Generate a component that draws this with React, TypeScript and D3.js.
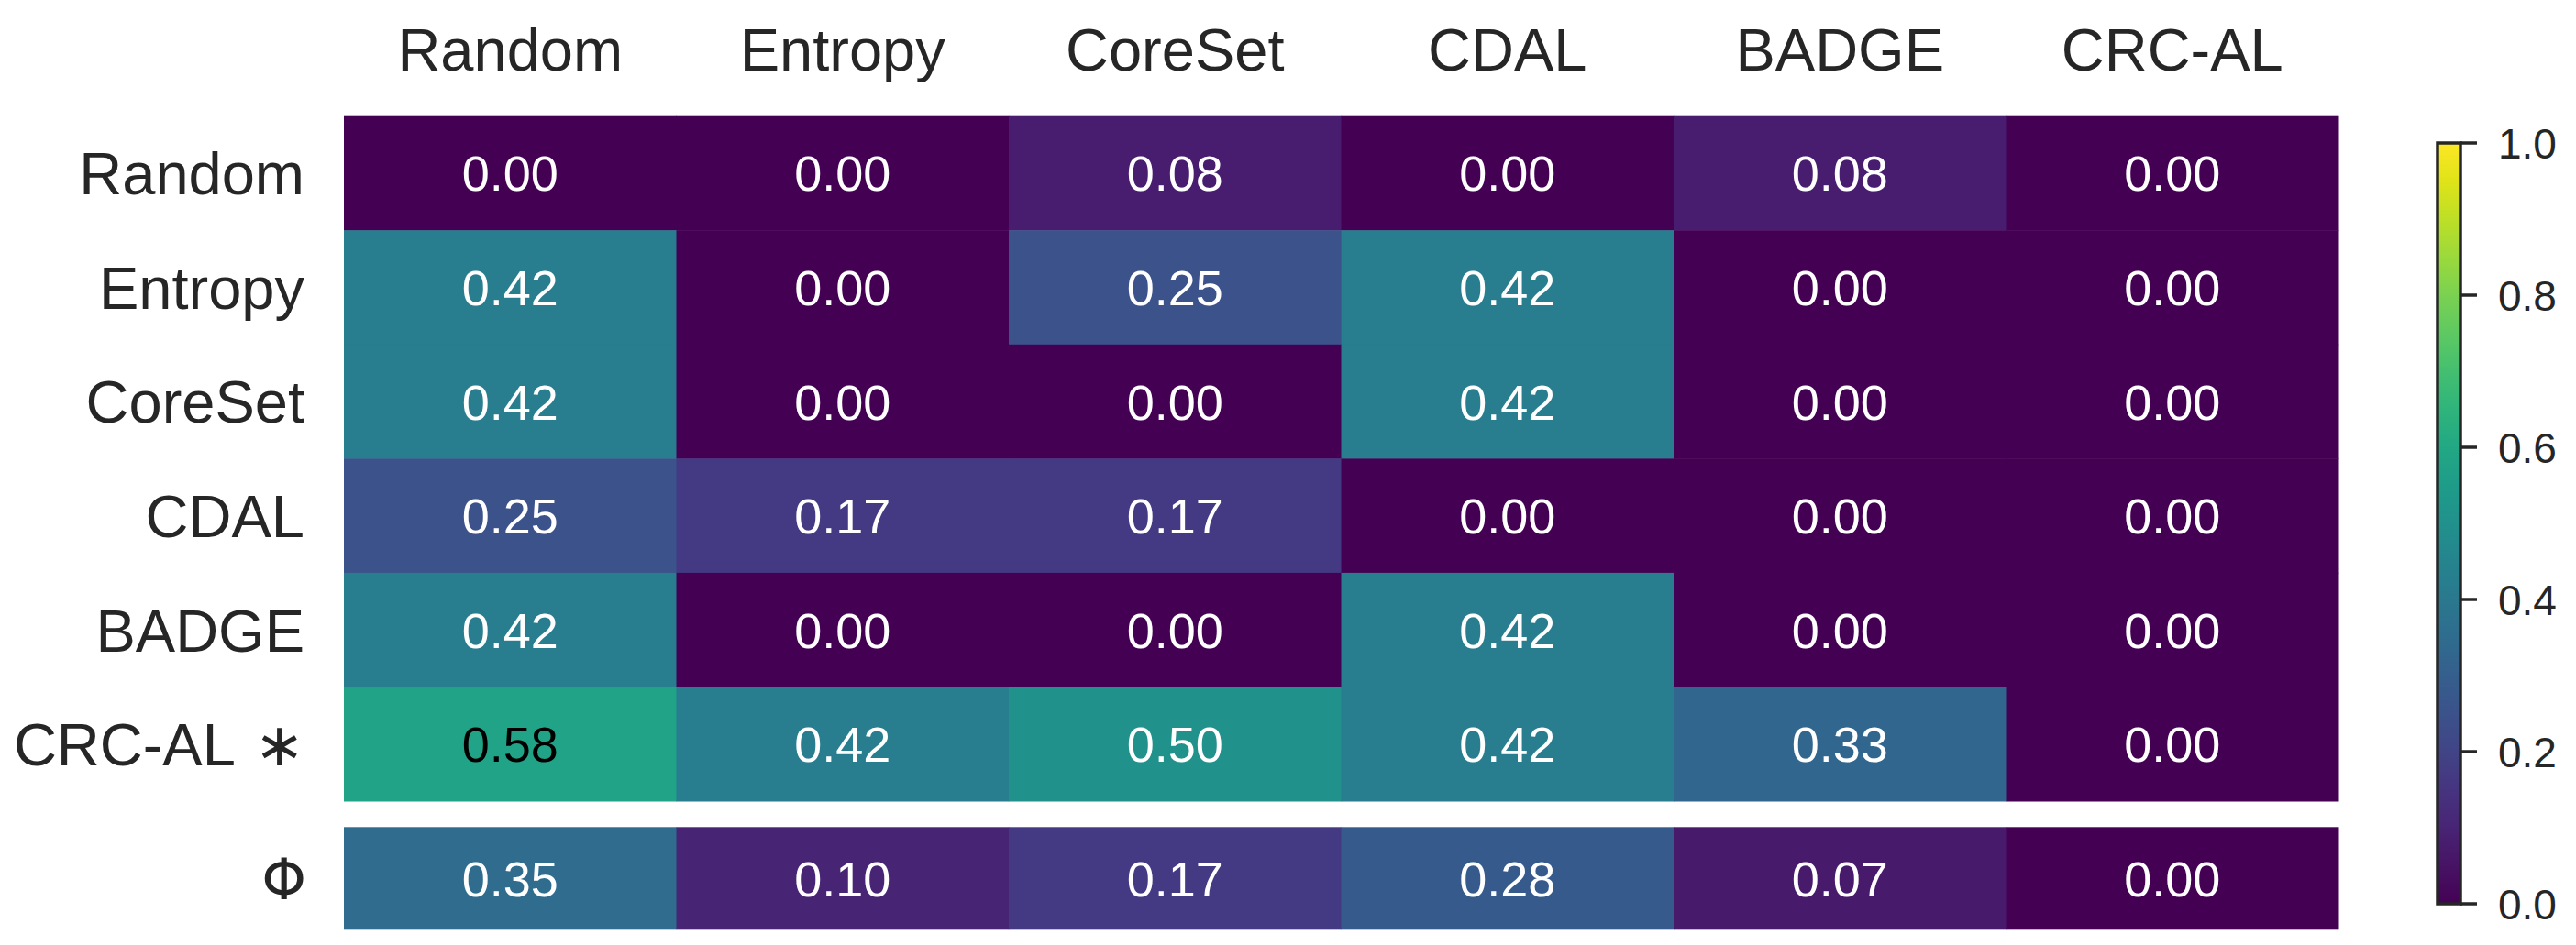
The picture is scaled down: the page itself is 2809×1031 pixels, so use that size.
import * as d3 from 'd3';

const methods = ['Random', 'Entropy', 'CoreSet', 'CDAL', 'BADGE', 'CRC-AL'];
const rowLabels = ['Random', 'Entropy', 'CoreSet', 'CDAL', 'BADGE', 'CRC-AL'];

// win-rate matrix: row method vs column method
const winMatrix = [
  [0.0, 0.0, 0.08, 0.0, 0.08, 0.0],
  [0.42, 0.0, 0.25, 0.42, 0.0, 0.0],
  [0.42, 0.0, 0.0, 0.42, 0.0, 0.0],
  [0.25, 0.17, 0.17, 0.0, 0.0, 0.0],
  [0.42, 0.0, 0.0, 0.42, 0.0, 0.0],
  [0.58, 0.42, 0.5, 0.42, 0.33, 0.0],
];

// Φ summary row
const phiValues = [0.35, 0.1, 0.17, 0.28, 0.07, 0.0];

const colorbarTicks = [0, 0.2, 0.4, 0.6, 0.8, 1.0];

const WIDTH = 2809;
const HEIGHT = 1031;
const FONT = '"Liberation Sans", Arial, sans-serif';
const TEXT = '#262626';

// pick annotation colour from the cell's luminance
function annotColor(v: number) {
  const c = d3.rgb(d3.interpolateViridis(v));
  const lin = [c.r, c.g, c.b].map((x) => {
    const s = x / 255;
    return s <= 0.03928 ? s / 12.92 : Math.pow((s + 0.055) / 1.055, 2.4);
  });
  const lum = 0.2126 * lin[0] + 0.7152 * lin[1] + 0.0722 * lin[2];
  return lum > 0.25 ? '#000000' : '#ffffff';
}

export default function App() {
  const x = d3.scaleBand().domain(methods).range([375, 2550]);
  const y = d3.scaleBand().domain(rowLabels).range([126.7, 874]);
  const phiTop = 902.3;
  const phiBottom = 1014.3;
  const color = (v: number) => d3.interpolateViridis(v);

  const cb = d3.scaleLinear().domain([0, 1]).range([986, 156]);
  const cbLeft = 2658;
  const cbWidth = 25;
  const stops = d3.range(0, 1.0001, 0.05);

  return (
    <svg
      width={WIDTH}
      height={HEIGHT}
      style={{ position: 'absolute', left: 0, top: 0, background: '#fff' }}
      fontFamily={FONT}
    >
      <defs>
        <linearGradient id="viridis" x1="0" y1="1" x2="0" y2="0">
          {stops.map((s) => (
            <stop key={s} offset={s} stopColor={color(s)} />
          ))}
        </linearGradient>
      </defs>

      {/* main matrix */}
      {winMatrix.map((row, i) =>
        row.map((v, j) => (
          <g key={`c${i}-${j}`}>
            <rect
              x={x(methods[j])!}
              y={y(rowLabels[i])!}
              width={x.bandwidth() + 0.5}
              height={y.bandwidth() + 0.5}
              fill={color(v)}
            />
            <text
              x={x(methods[j])! + x.bandwidth() / 2}
              y={y(rowLabels[i])! + y.bandwidth() / 2}
              dy="0.36em"
              textAnchor="middle"
              fontSize={54}
              fill={annotColor(v)}
            >
              {v.toFixed(2)}
            </text>
          </g>
        ))
      )}

      {/* Φ row */}
      {phiValues.map((v, j) => (
        <g key={`p${j}`}>
          <rect
            x={x(methods[j])!}
            y={phiTop}
            width={x.bandwidth() + 0.5}
            height={phiBottom - phiTop}
            fill={color(v)}
          />
          <text
            x={x(methods[j])! + x.bandwidth() / 2}
            y={(phiTop + phiBottom) / 2}
            dy="0.36em"
            textAnchor="middle"
            fontSize={54}
            fill={annotColor(v)}
          >
            {v.toFixed(2)}
          </text>
        </g>
      ))}

      {/* column labels */}
      {methods.map((m) => (
        <text
          key={`h${m}`}
          x={x(m)! + x.bandwidth() / 2}
          y={77}
          textAnchor="middle"
          fontSize={65}
          fill={TEXT}
        >
          {m}
        </text>
      ))}

      {/* row labels */}
      {rowLabels.map((r, i) => (
        <text
          key={`r${r}`}
          x={332}
          y={y(r)! + y.bandwidth() / 2}
          dy="0.36em"
          textAnchor="end"
          fontSize={65}
          fill={TEXT}
        >
          {r}
          {i === rowLabels.length - 1 && (
            <tspan fontFamily='"DejaVu Sans", sans-serif'> ∗</tspan>
          )}
        </text>
      ))}
      <text
        x={334}
        y={(phiTop + phiBottom) / 2}
        dy="0.36em"
        textAnchor="end"
        fontSize={62}
        fontFamily='"DejaVu Sans", sans-serif'
        fill={TEXT}
      >
        Φ
      </text>

      {/* colorbar */}
      <rect
        x={cbLeft}
        y={cb(1)}
        width={cbWidth}
        height={cb(0) - cb(1)}
        fill="url(#viridis)"
        stroke={TEXT}
        strokeWidth={3.5}
      />
      {colorbarTicks.map((t) => (
        <g key={`t${t}`}>
          <line
            x1={cbLeft + cbWidth}
            x2={cbLeft + cbWidth + 18}
            y1={cb(t)}
            y2={cb(t)}
            stroke={TEXT}
            strokeWidth={3.5}
          />
          <text
            x={2724}
            y={cb(t)}
            dy="0.36em"
            fontSize={46}
            fill={TEXT}
          >
            {t.toFixed(1)}
          </text>
        </g>
      ))}
    </svg>
  );
}
